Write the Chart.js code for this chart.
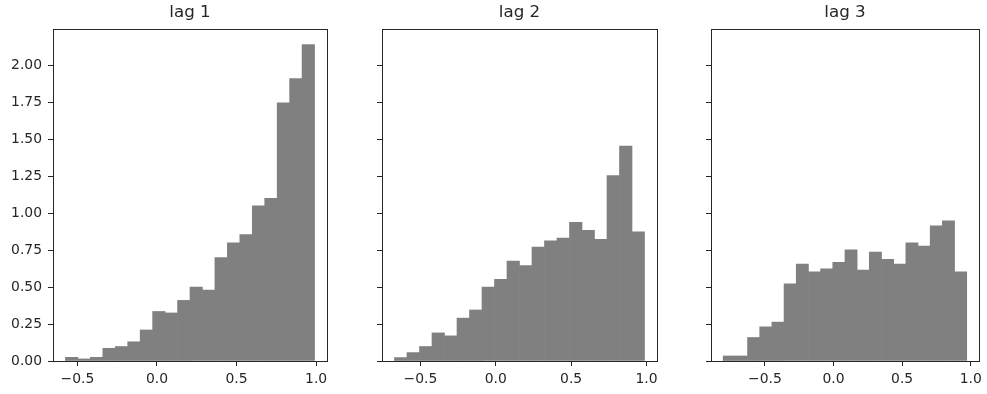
<!DOCTYPE html>
<html>
<head>
<meta charset="utf-8">
<script src="https://cdn.jsdelivr.net/npm/chart.js@4.4.1/dist/chart.umd.min.js"></script>
<style>
  html, body { margin: 0; padding: 0; background: #fff; overflow: hidden; }
  body { width: 987px; height: 394px; position: relative; }
  .panel { position: absolute; top: 0; height: 394px; }
</style>
</head>
<body>
<div class="panel" id="p0"><canvas id="c0"></canvas></div>
<div class="panel" id="p1"><canvas id="c1"></canvas></div>
<div class="panel" id="p2"><canvas id="c2"></canvas></div>
<script>
// histogram densities, 20 bins per lag
const titles = ['lag 1', 'lag 2', 'lag 3'];
const binLo = [-0.575, -0.672, -0.804];
const binHi = [0.99, 0.987, 0.971];
const lag1 = [0.025, 0.014, 0.025, 0.086, 0.098, 0.13, 0.21, 0.335, 0.325, 0.41,
              0.50, 0.48, 0.70, 0.80, 0.855, 1.05, 1.10, 1.746, 1.91, 2.14];
const lag2 = [0.023, 0.057, 0.098, 0.19, 0.17, 0.29, 0.345, 0.50, 0.553, 0.676,
              0.646, 0.771, 0.812, 0.832, 0.937, 0.884, 0.823, 1.254, 1.454, 0.873];
const lag3 = [0.034, 0.034, 0.159, 0.231, 0.263, 0.522, 0.655, 0.603, 0.624, 0.667,
              0.751, 0.615, 0.737, 0.687, 0.655, 0.800, 0.778, 0.914, 0.948, 0.603];
const series = [lag1, lag2, lag3];
const xTicks = [-0.5, 0.0, 0.5, 1.0];
const yTicks = [0, 0.25, 0.5, 0.75, 1.0, 1.25, 1.5, 1.75, 2.0];
const yMax = 2.245;

// panel placement
const panelLeft = [0, 329, 658];
const panelWidth = [340, 340, 329];
const padRight = [13, 12, 2];
const yAxisWidth = 53;

const FONT = "'DejaVu Sans', sans-serif";
const INK = '#262626';

const frame = {
    id: 'frame',
    afterDatasetsDraw(chart) {
        const a = chart.chartArea;
        const ctx = chart.ctx;
        ctx.save();
        ctx.strokeStyle = INK;
        ctx.lineWidth = 1;
        ctx.strokeRect(Math.round(a.left) + 0.5, Math.round(a.top) + 0.5,
                       Math.round(a.right - a.left), Math.round(a.bottom - a.top));
        ctx.restore();
    }
};

function makePanel(i) {
    const div = document.getElementById('p' + i);
    div.style.left = panelLeft[i] + 'px';
    div.style.width = panelWidth[i] + 'px';
    const canvas = document.getElementById('c' + i);
    canvas.width = panelWidth[i];
    canvas.height = 394;

    const n = series[i].length;
    const w = (binHi[i] - binLo[i]) / n;
    const pts = series[i].map((v, k) => ({ x: binLo[i] + (k + 0.5) * w, y: v }));
    const margin = (binHi[i] - binLo[i]) * 0.05;

    new Chart(canvas.getContext('2d'), {
        type: 'bar',
        data: {
            datasets: [{
                data: pts,
                backgroundColor: '#808080',
                borderWidth: 0,
                barPercentage: 1,
                categoryPercentage: 1
            }]
        },
        options: {
            responsive: false,
            animation: false,
            devicePixelRatio: 1,
            layout: { padding: { left: 0, right: padRight[i], top: 0, bottom: 0 } },
            plugins: {
                legend: { display: false },
                tooltip: { enabled: false },
                title: {
                    display: true,
                    fullSize: false,
                    text: titles[i],
                    color: INK,
                    font: { family: FONT, size: 16.7, weight: 'normal' },
                    padding: { top: 3, bottom: 6 }
                }
            },
            scales: {
                x: {
                    type: 'linear',
                    offset: false,
                    min: binLo[i] - margin,
                    max: binHi[i] + margin,
                    afterBuildTicks: (s) => { s.ticks = xTicks.map(v => ({ value: v })); },
                    afterFit: (s) => { s.height = 33; },
                    border: { display: false },
                    grid: { offset: false, drawOnChartArea: false, drawTicks: true, tickLength: 5, color: INK },
                    ticks: {
                        color: INK,
                        padding: 5,
                        maxRotation: 0,
                        autoSkip: false,
                        font: { family: FONT, size: 13.9 },
                        callback: (v) => v.toFixed(1).replace('-', '\u2212')
                    }
                },
                y: {
                    min: 0,
                    max: yMax,
                    afterBuildTicks: (s) => { s.ticks = yTicks.map(v => ({ value: v })); },
                    afterFit: (s) => { s.width = yAxisWidth; },
                    border: { display: false },
                    grid: { drawOnChartArea: false, drawTicks: true, tickLength: 5, color: INK },
                    ticks: {
                        color: INK,
                        padding: 6,
                        autoSkip: false,
                        font: { family: FONT, size: 13.9 },
                        callback: (v) => i === 0 ? v.toFixed(2) : ''
                    }
                }
            }
        },
        plugins: [frame]
    });
}

[0, 1, 2].forEach(makePanel);
</script>
</body>
</html>
